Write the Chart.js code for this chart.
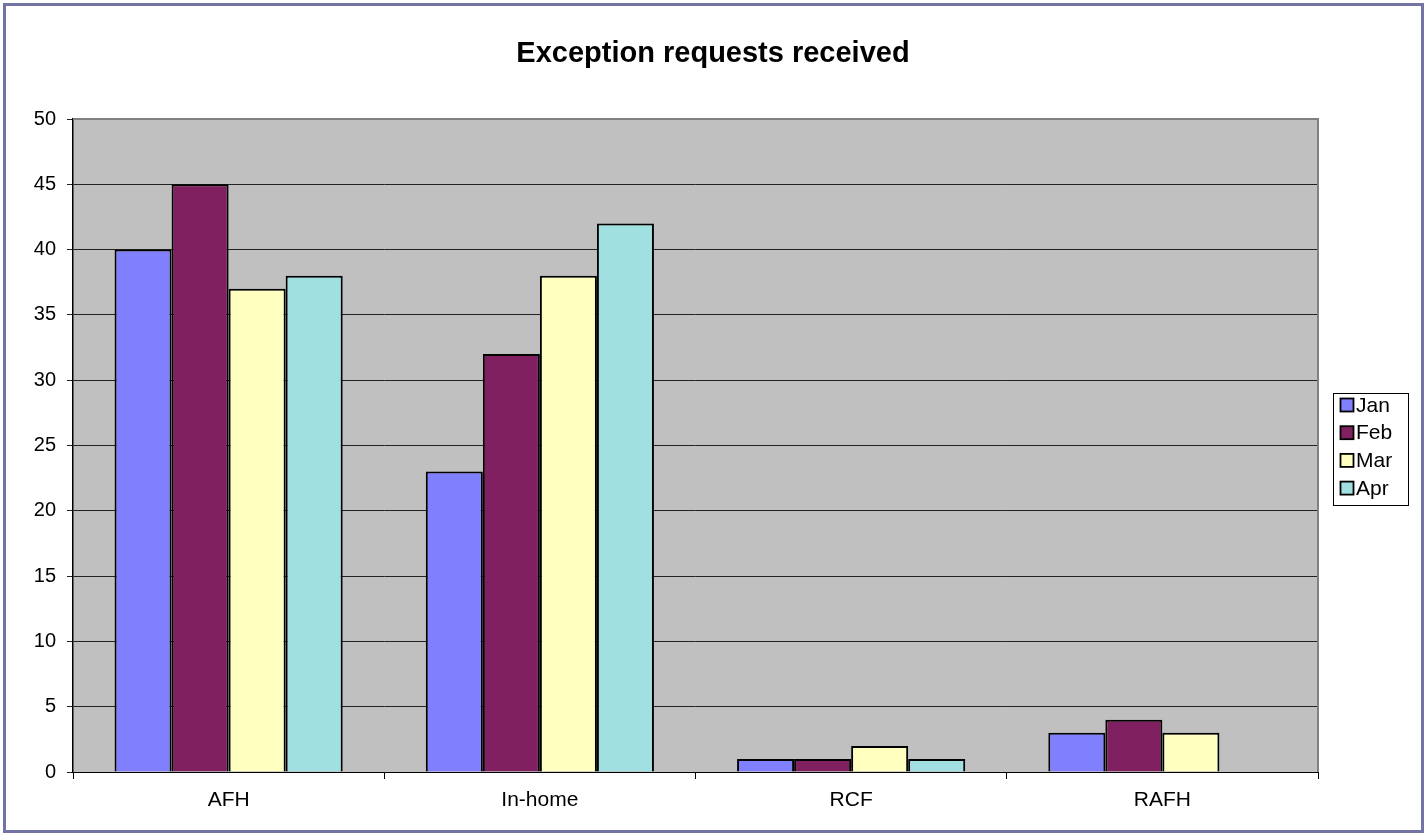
<!DOCTYPE html>
<html>
<head>
<meta charset="utf-8">
<script src="https://cdn.jsdelivr.net/npm/chart.js@4/dist/chart.umd.min.js"></script>
<style>
  html, body { margin: 0; padding: 0; background: #ffffff; }
  #wrap { position: relative; width: 1427px; height: 836px; }
  canvas { display: block; }
</style>
</head>
<body>
<div id="wrap"><canvas id="c" width="1427" height="836"></canvas></div>
<script>
const titleText = "Exception requests received";
const categories = ["AFH", "In-home", "RCF", "RAFH"];
const seriesNames = ["Jan", "Feb", "Mar", "Apr"];
const janValues = [40, 23, 1, 3];
const febValues = [45, 32, 1, 4];
const marValues = [37, 38, 2, 3];
const aprValues = [38, 42, 1, null];
const seriesColors = ["#8080FF", "#802060", "#FFFFC0", "#A0E0E0"];
const yMin = 0, yMax = 50, yStep = 5;

const FONT = "'Liberation Sans', Arial, sans-serif";

const frameAndPlot = {
  id: 'frameAndPlot',
  beforeDraw(chart) {
    const ctx = chart.ctx, a = chart.chartArea;
    ctx.save();
    ctx.fillStyle = '#ffffff';
    ctx.fillRect(0, 0, chart.width, chart.height);
    // outer frame
    ctx.strokeStyle = '#7474A4';
    ctx.lineWidth = 3;
    ctx.strokeRect(4.5, 4.5, chart.width - 9, chart.height - 9);
    // plot area
    ctx.fillStyle = '#C0C0C0';
    ctx.fillRect(a.left, a.top, a.right - a.left, a.bottom - a.top);
    ctx.restore();
  },
  afterDatasetsDraw(chart) {
    const ctx = chart.ctx, a = chart.chartArea;
    ctx.save();
    ctx.strokeStyle = '#808080';
    ctx.lineWidth = 2;
    ctx.beginPath();
    ctx.moveTo(a.left, a.top);
    ctx.lineTo(a.right, a.top);
    ctx.lineTo(a.right, a.bottom);
    ctx.stroke();
    ctx.restore();
  },
  afterDraw(chart) {
    const ctx = chart.ctx;
    ctx.save();
    // title
    ctx.fillStyle = '#000';
    ctx.font = "bold 29px " + FONT;
    ctx.textAlign = 'center';
    ctx.textBaseline = 'middle';
    ctx.fillText(titleText, 713, 54);
    // legend
    const bx = 1333, by = 393, bw = 75, bh = 112;
    ctx.fillStyle = '#ffffff';
    ctx.fillRect(bx, by, bw, bh);
    ctx.strokeStyle = '#000';
    ctx.lineWidth = 1;
    ctx.strokeRect(bx + 0.5, by + 0.5, bw, bh);
    ctx.font = "21px " + FONT;
    ctx.textAlign = 'left';
    chart.data.datasets.forEach((ds, i) => {
      const cy = 405 + i * 27.7;
      ctx.fillStyle = ds.backgroundColor;
      ctx.fillRect(1340.5, cy - 6.5, 13, 13);
      ctx.strokeStyle = '#000';
      ctx.lineWidth = 1.8;
      ctx.strokeRect(1340.5, cy - 6.5, 13, 13);
      ctx.fillStyle = '#000';
      ctx.fillText(ds.label, 1356, cy + 1);
    });
    ctx.restore();
  }
};

const allValues = [janValues, febValues, marValues, aprValues];

new Chart(document.getElementById('c'), {
  type: 'bar',
  data: {
    labels: categories,
    datasets: seriesNames.map((n, i) => ({
      label: n,
      data: allValues[i],
      backgroundColor: seriesColors[i],
      borderColor: '#000000',
      borderWidth: 2,
      categoryPercentage: 0.733,
      barPercentage: 1.0
    }))
  },
  options: {
    responsive: false,
    animation: false,
    devicePixelRatio: 1,
    layout: { padding: { left: 0, top: 119, right: 109, bottom: 0 } },
    plugins: {
      legend: { display: false },
      title: { display: false },
      tooltip: { enabled: false }
    },
    scales: {
      x: {
        grid: { offset: true, drawOnChartArea: false, drawTicks: true, tickLength: 7, color: '#000', lineWidth: 1 },
        border: { display: true, color: '#000', width: 1 },
        ticks: { font: { family: FONT, size: 21 }, color: '#000', padding: 9 },
        afterFit(s) { s.height = 64; }
      },
      y: {
        min: yMin, max: yMax,
        grid: { drawOnChartArea: true, drawTicks: true, tickLength: 6, color: '#222222', lineWidth: 1 },
        border: { display: true, color: '#000', width: 1.5 },
        ticks: { stepSize: yStep, font: { family: FONT, size: 20 }, color: '#000', padding: 11 },
        afterFit(s) { s.width = 73; }
      }
    }
  },
  plugins: [frameAndPlot]
});
</script>
</body>
</html>
